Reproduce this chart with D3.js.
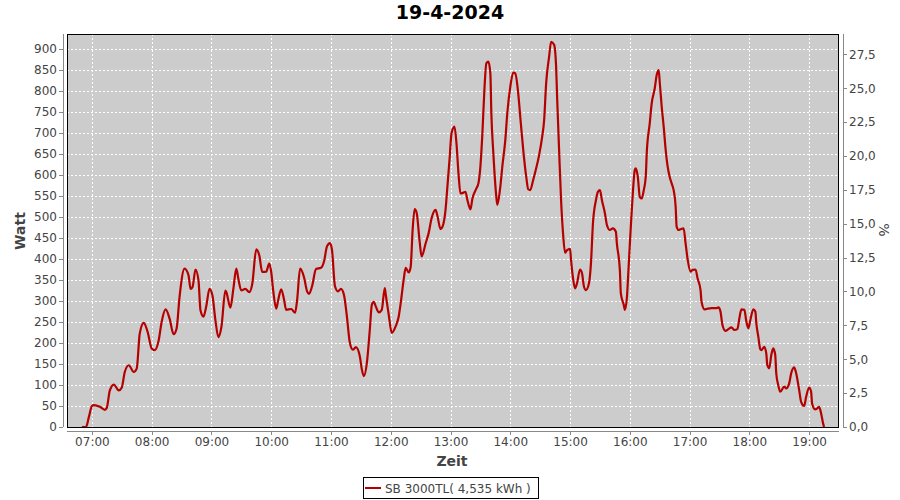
<!DOCTYPE html>
<html>
<head>
<meta charset="utf-8">
<script src="https://cdn.jsdelivr.net/npm/d3@7/dist/d3.min.js"></script>
<style>
  html, body { margin: 0; padding: 0; background: #ffffff; }
  svg { display: block; font-family: "DejaVu Sans", sans-serif; }
</style>
</head>
<body>
<svg id="chart" width="900" height="500"></svg>
<script>
// ---- data ----
const chartTitle = "19-4-2024";
const seriesName = "SB 3000TL( 4,535 kWh )";
const times = ["06:50","06:54","06:57","07:00","07:02","07:08","07:13","07:15","07:18","07:22","07:27","07:30","07:33","07:37","07:42","07:45","07:48","07:52","07:56","08:00","08:03","08:07","08:10","08:14","08:18","08:22","08:25","08:28","08:33","08:37","08:39","08:41","08:44","08:47","08:49","08:52","08:55","08:58","09:01","09:04","09:07","09:10","09:14","09:15","09:19","09:22","09:25","09:27","09:30","09:34","09:38","09:41","09:45","09:48","09:51","09:55","09:58","10:00","10:02","10:05","10:07","10:10","10:13","10:15","10:20","10:24","10:26","10:29","10:33","10:36","10:38","10:41","10:45","10:50","10:53","10:56","10:59","11:01","11:04","11:07","11:10","11:13","11:16","11:19","11:22","11:25","11:29","11:31","11:33","11:36","11:39","11:41","11:43","11:45","11:48","11:51","11:54","11:55","11:58","12:01","12:05","12:08","12:10","12:13","12:15","12:18","12:20","12:22","12:24","12:26","12:29","12:31","12:35","12:38","12:41","12:45","12:47","12:50","12:52","12:55","12:57","12:59","13:01","13:04","13:06","13:08","13:10","13:13","13:15","13:17","13:20","13:22","13:26","13:28","13:30","13:32","13:34","13:36","13:38","13:40","13:41","13:43","13:46","13:47","13:50","13:52","13:55","13:57","14:00","14:03","14:05","14:08","14:10","14:13","14:16","14:18","14:20","14:23","14:26","14:29","14:32","14:34","14:36","14:39","14:41","14:44","14:46","14:47","14:49","14:51","14:53","14:55","14:57","15:00","15:01","15:03","15:05","15:07","15:10","15:12","15:14","15:16","15:19","15:21","15:23","15:26","15:28","15:30","15:32","15:35","15:37","15:40","15:43","15:46","15:47","15:50","15:51","15:54","15:55","15:57","15:59","16:01","16:03","16:05","16:06","16:08","16:10","16:12","16:14","16:16","16:17","16:20","16:22","16:25","16:27","16:29","16:30","16:32","16:34","16:36","16:38","16:40","16:42","16:44","16:46","16:47","16:49","16:51","16:54","16:56","16:58","17:01","17:03","17:06","17:08","17:11","17:12","17:15","17:17","17:22","17:27","17:29","17:31","17:33","17:36","17:39","17:42","17:45","17:48","17:50","17:52","17:55","17:57","17:59","18:01","18:04","18:06","18:07","18:09","18:11","18:12","18:15","18:17","18:18","18:20","18:22","18:24","18:26","18:27","18:29","18:31","18:35","18:37","18:40","18:42","18:45","18:47","18:50","18:52","18:55","18:57","19:00","19:02","19:03","19:06","19:08","19:10","19:12","19:14","19:15"];
const watts = [0,0,24,50,52,48,41,46,87,101,87,94,131,147,131,139,222,248,226,187,183,206,250,280,258,221,234,310,377,361,329,333,375,349,278,263,290,329,313,254,214,238,325,321,284,329,377,353,325,329,321,341,423,409,369,370,389,369,325,282,302,328,302,279,281,272,302,377,356,323,317,335,376,379,394,430,438,422,335,323,329,315,263,200,184,190,168,137,121,152,232,291,298,287,273,279,331,315,267,224,240,263,295,351,379,368,381,470,519,510,442,406,437,461,497,517,501,471,477,517,576,636,699,715,675,604,556,558,560,540,518,544,568,580,620,699,802,866,870,842,747,652,548,529,572,620,683,747,810,844,842,794,739,660,596,566,564,588,616,648,691,731,818,882,917,910,858,787,660,540,460,415,421,424,398,354,330,342,375,366,334,326,342,390,485,540,560,564,540,509,481,469,473,465,437,374,318,290,279,306,390,477,556,612,616,596,548,544,564,596,652,723,771,806,838,850,822,763,715,660,620,596,580,564,525,477,469,471,473,437,400,370,374,375,354,326,298,280,281,283,283,285,275,243,229,233,237,231,233,259,280,279,251,235,255,280,275,247,215,185,183,191,175,148,140,171,187,171,128,100,84,96,92,104,128,142,128,88,60,50,72,94,84,56,42,44,48,33,9,0];
const leftTicks = [0,50,100,150,200,250,300,350,400,450,500,550,600,650,700,750,800,850,900];
const rightTicks = [0,2.5,5,7.5,10,12.5,15,17.5,20,22.5,25,27.5];
const xDomain = ["06:35","19:30"];
const leftDomain = [0, 935.7];
const rightDomain = [0, 29];
const xLabel = "Zeit", leftLabel = "Watt", rightLabel = "%";

// ---- layout ----
const P = { left: 67, right: 839, top: 34, bottom: 427 };
const svg = d3.select("#chart");
const parse = d3.timeParse("%H:%M");
const data = times.map((t, i) => ({ t: parse(t), v: watts[i] }));

const x = d3.scaleTime().domain(xDomain.map(parse)).range([P.left, P.right]);
const y = d3.scaleLinear().domain(leftDomain).range([P.bottom, P.top]);
const yR = d3.scaleLinear().domain(rightDomain).range([P.bottom, P.top]);

// title
svg.append("text").attr("x", 450).attr("y", 19).attr("text-anchor", "middle")
  .attr("font-size", 19).attr("font-weight", "bold").attr("fill", "#000").text(chartTitle);

// plot background
svg.append("rect").attr("x", P.left).attr("y", P.top)
  .attr("width", P.right - P.left).attr("height", P.bottom - P.top).attr("fill", "#cccccc");

// gridlines
const grid = svg.append("g").attr("stroke", "#ffffff").attr("stroke-width", 1)
  .attr("stroke-dasharray", "2,2").attr("shape-rendering", "crispEdges");
const hourTicks = x.ticks(d3.timeHour.every(1));
grid.selectAll("line.v").data(hourTicks).join("line").attr("class", "v")
  .attr("x1", d => Math.round(x(d)) + 0.5).attr("x2", d => Math.round(x(d)) + 0.5)
  .attr("y1", P.top).attr("y2", P.bottom);
grid.selectAll("line.h").data(leftTicks.filter(d => d > 0)).join("line").attr("class", "h")
  .attr("y1", d => Math.round(y(d)) + 0.5).attr("y2", d => Math.round(y(d)) + 0.5)
  .attr("x1", P.left).attr("x2", P.right);

// clip
svg.append("clipPath").attr("id", "clip").append("rect")
  .attr("x", P.left).attr("y", P.top).attr("width", P.right - P.left).attr("height", P.bottom - P.top);

// line
const line = d3.line().x(d => x(d.t)).y(d => y(d.v)).curve(d3.curveMonotoneX);
svg.append("path").datum(data).attr("clip-path", "url(#clip)")
  .attr("d", line).attr("fill", "none").attr("stroke", "#b50000").attr("stroke-width", 2.2)
  .attr("stroke-linejoin", "round");

// border
svg.append("rect").attr("x", P.left + 0.5).attr("y", P.top + 0.5)
  .attr("width", P.right - P.left - 1).attr("height", P.bottom - P.top)
  .attr("fill", "none").attr("stroke", "#000").attr("stroke-width", 1).attr("shape-rendering", "crispEdges");

function styleAxis(g) {
  g.selectAll("path").attr("stroke", "#888").attr("shape-rendering", "crispEdges");
  g.selectAll("line").attr("stroke", "#888").attr("shape-rendering", "crispEdges");
  g.selectAll("text").attr("fill", "#444").attr("font-size", 12).attr("font-family", "DejaVu Sans, sans-serif");
}

// x axis
const gx = svg.append("g").attr("transform", `translate(0,${P.bottom + 4})`)
  .call(d3.axisBottom(x).ticks(d3.timeHour.every(1)).tickFormat(d3.timeFormat("%H:%M"))
    .tickSizeInner(4).tickSizeOuter(0).tickPadding(2));
gx.select(".domain").attr("d", `M${P.left},0.5H${P.right}`);
styleAxis(gx);

// left axis
const gy = svg.append("g").attr("transform", `translate(${P.left - 4},0)`)
  .call(d3.axisLeft(y).tickValues(leftTicks).tickSizeInner(4).tickSizeOuter(0).tickPadding(2));
gy.select(".domain").attr("d", `M0.5,${P.top}V${P.bottom}`);
styleAxis(gy);

// right axis
const gr = svg.append("g").attr("transform", `translate(${P.right + 4},0)`)
  .call(d3.axisRight(yR).tickValues(rightTicks).tickFormat(d => d.toFixed(1).replace(".", ","))
    .tickSizeInner(4).tickSizeOuter(0).tickPadding(2));
gr.select(".domain").attr("d", `M0.5,${P.top}V${P.bottom}`);
styleAxis(gr);

// axis labels
svg.append("text").attr("x", 452).attr("y", 466).attr("text-anchor", "middle")
  .attr("font-size", 14).attr("font-weight", "bold").attr("fill", "#444").text(xLabel);
svg.append("text").attr("transform", "translate(25,231) rotate(-90)").attr("text-anchor", "middle")
  .attr("font-size", 14).attr("font-weight", "bold").attr("fill", "#444").text(leftLabel);
svg.append("text").attr("transform", "translate(879,230) rotate(90)").attr("text-anchor", "middle")
  .attr("font-size", 14).attr("fill", "#444").text(rightLabel);

// legend
const lg = svg.append("g");
lg.append("rect").attr("x", 363.5).attr("y", 477.5).attr("width", 175).attr("height", 21)
  .attr("fill", "#fff").attr("stroke", "#000").attr("stroke-width", 1);
lg.append("line").attr("x1", 365).attr("x2", 381).attr("y1", 488).attr("y2", 488)
  .attr("stroke", "#b50000").attr("stroke-width", 2);
lg.append("text").attr("x", 385).attr("y", 493).attr("font-size", 12).attr("fill", "#444").text(seriesName);
</script>
</body>
</html>
